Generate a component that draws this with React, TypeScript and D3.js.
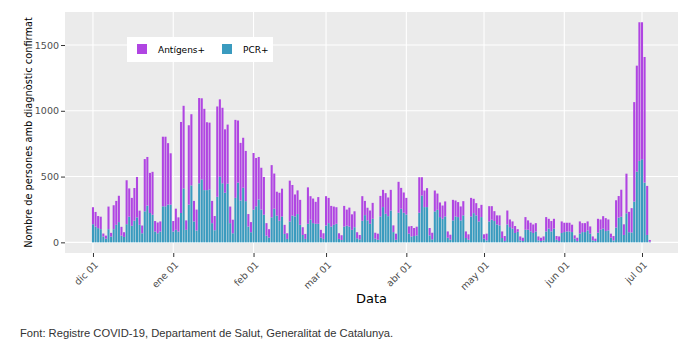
import { useRef, useEffect } from "react";
import * as d3 from "d3";

// one bar per day, starting on this date
const startDay = "2020-12-01";

// PCR+ cases per day (bottom of the stack)
const pcr = [
  138, 120, 108, 100, 44, 28, 100, 44, 100, 133, 154, 51, 41, 138, 195, 126, 164, 190, 133, 69,
  236, 279, 223, 210, 82, 69, 82, 274, 274, 287, 287, 82, 95, 82, 223, 410, 95, 287, 433, 159,
  90, 449, 479, 397, 397, 402, 146, 92, 346, 500, 449, 377, 446, 146, 69, 338, 454, 318, 415, 313,
  120, 77, 249, 274, 326, 249, 210, 51, 36, 190, 256, 203, 164, 197, 64, 26, 159, 203, 197, 215,
  133, 56, 26, 141, 172, 146, 141, 141, 36, 26, 128, 146, 120, 133, 141, 26, 18, 120, 126, 120,
  95, 115, 31, 23, 164, 207, 167, 141, 179, 28, 20, 197, 268, 217, 199, 242, 78, 20, 225, 255,
  225, 212, 66, 45, 48, 53, 225, 356, 268, 268, 53, 23, 235, 247, 192, 179, 197, 35, 20, 167,
  197, 192, 167, 205, 33, 20, 197, 222, 205, 159, 192, 28, 15, 159, 172, 162, 136, 129, 33, 10,
  136, 116, 104, 71, 80, 15, 10, 96, 96, 83, 71, 83, 15, 10, 15, 83, 104, 83, 104, 20,
  10, 71, 78, 83, 83, 78, 28, 10, 66, 78, 78, 91, 66, 15, 10, 73, 96, 104, 86, 91,
  35, 15, 112, 188, 195, 56, 221, 77, 75, 310, 538, 619, 632, 454, 56, 5,
];

// Antígens+ cases per day (stacked on top)
const antigens = [
  129, 111, 92, 95, 23, 23, 172, 28, 182, 182, 200, 67, 36, 334, 215, 212, 249, 307, 108, 59,
  397, 370, 305, 326, 80, 82, 77, 529, 529, 467, 390, 80, 161, 108, 692, 628, 72, 603, 541, 156,
  159, 648, 616, 618, 516, 508, 169, 108, 687, 587, 574, 482, 449, 126, 103, 593, 472, 438, 380, 382,
  95, 77, 430, 367, 323, 318, 287, 95, 64, 397, 267, 182, 213, 211, 69, 43, 310, 233, 167, 180,
  190, 59, 38, 277, 179, 187, 167, 203, 59, 43, 223, 192, 157, 139, 126, 43, 36, 157, 123, 144,
  118, 121, 46, 33, 187, 108, 96, 101, 121, 45, 46, 156, 131, 157, 142, 157, 51, 46, 235, 159,
  154, 126, 55, 79, 61, 66, 270, 139, 126, 144, 56, 50, 159, 124, 111, 101, 114, 48, 38, 156,
  121, 114, 106, 108, 50, 41, 141, 109, 93, 101, 93, 33, 51, 116, 103, 75, 69, 76, 50, 38,
  106, 58, 55, 53, 20, 30, 25, 96, 71, 66, 65, 63, 30, 25, 30, 109, 75, 79, 75, 28,
  35, 88, 71, 66, 66, 56, 25, 25, 93, 68, 68, 68, 55, 30, 18, 106, 78, 95, 98, 83,
  31, 33, 208, 164, 205, 81, 301, 155, 185, 756, 805, 1054, 1041, 955, 373, 13,
];

const tickDates = [
  "2020-12-01", "2021-01-01", "2021-02-01", "2021-03-01",
  "2021-04-01", "2021-05-01", "2021-06-01", "2021-07-01",
];
const tickLabels = ["dic 01", "ene 01", "feb 01", "mar 01", "abr 01", "may 01", "jun 01", "jul 01"];
const yTicks = [0, 500, 1000, 1500];
const seriesNames = ["Antígens+", "PCR+"];
const seriesColors = ["#b045e2", "#3a9bbf"];

export default function App() {
  const svgRef = useRef<SVGSVGElement>(null);

  useEffect(() => {
    const width = 699;
    const height = 361;
    const panel = { left: 65, right: 678, top: 12, bottom: 253 };
    const font = "'DejaVu Sans', Verdana, sans-serif";

    const svg = d3.select(svgRef.current).attr("width", width).attr("height", height);
    svg.selectAll("*").remove();

    const days = pcr.map((_, i) => d3.utcDay.offset(new Date(startDay), i));

    const x = d3
      .scaleUtc()
      .domain([new Date("2020-11-20T04:48:00Z"), new Date("2021-07-14T21:36:00Z")])
      .range([panel.left, panel.right]);
    const y = d3.scaleLinear().domain([-81, 1751]).range([panel.bottom, panel.top]);

    // panel background + grid
    svg.append("rect")
      .attr("x", panel.left)
      .attr("y", panel.top)
      .attr("width", panel.right - panel.left)
      .attr("height", panel.bottom - panel.top)
      .attr("fill", "#ebebeb");

    const ticks = tickDates.map((d) => new Date(d));

    svg.append("g")
      .selectAll("line")
      .data(yTicks)
      .join("line")
      .attr("x1", panel.left)
      .attr("x2", panel.right)
      .attr("y1", (d) => y(d))
      .attr("y2", (d) => y(d))
      .attr("stroke", "#fff")
      .attr("stroke-width", 1.1);

    svg.append("g")
      .selectAll("line")
      .data(ticks)
      .join("line")
      .attr("x1", (d) => x(d))
      .attr("x2", (d) => x(d))
      .attr("y1", panel.top)
      .attr("y2", panel.bottom)
      .attr("stroke", "#fff")
      .attr("stroke-width", 1.1);

    // stacked bars
    const step = x(days[1]) - x(days[0]);
    const bw = step * 0.8;
    const bars = svg.append("g");

    bars.selectAll("rect.pcr")
      .data(days)
      .join("rect")
      .attr("class", "pcr")
      .attr("x", (d) => x(d) - bw / 2)
      .attr("width", bw)
      .attr("y", (_, i) => y(pcr[i]))
      .attr("height", (_, i) => y(0) - y(pcr[i]))
      .attr("fill", seriesColors[1]);

    bars.selectAll("rect.ant")
      .data(days)
      .join("rect")
      .attr("class", "ant")
      .attr("x", (d) => x(d) - bw / 2)
      .attr("width", bw)
      .attr("y", (_, i) => y(pcr[i] + antigens[i]))
      .attr("height", (_, i) => y(pcr[i]) - y(pcr[i] + antigens[i]))
      .attr("fill", seriesColors[0]);

    // y axis
    const yAxis = svg.append("g")
      .attr("transform", `translate(${panel.left},0)`)
      .call(
        d3.axisLeft(y)
          .tickValues(yTicks)
          .tickFormat(d3.format("d"))
          .tickSize(4)
          .tickPadding(2)
      );
    yAxis.select(".domain").remove();
    yAxis.selectAll("line").attr("stroke", "#333");
    yAxis.selectAll("text")
      .attr("fill", "#4d4d4d")
      .attr("font-size", 9.5)
      .attr("font-family", font);

    // x axis
    const xAxis = svg.append("g")
      .attr("transform", `translate(0,${panel.bottom})`)
      .call(
        d3.axisBottom(x)
          .tickValues(ticks)
          .tickFormat((_, i) => tickLabels[i])
          .tickSize(4)
      );
    xAxis.select(".domain").remove();
    xAxis.selectAll("line").attr("stroke", "#333");
    xAxis.selectAll("text")
      .attr("fill", "#4d4d4d")
      .attr("font-size", 9.5)
      .attr("font-family", font)
      .attr("x", 0)
      .attr("y", 0)
      .attr("dy", "0.35em")
      .attr("text-anchor", "end")
      .attr("transform", "translate(3,10) rotate(-45)");

    // axis titles
    svg.append("text")
      .attr("x", (panel.left + panel.right) / 2)
      .attr("y", 303)
      .attr("text-anchor", "middle")
      .attr("font-family", font)
      .attr("font-size", 13)
      .attr("fill", "#000")
      .text("Data");

    svg.append("text")
      .attr("transform", `translate(32,${(panel.top + panel.bottom) / 2}) rotate(-90)`)
      .attr("text-anchor", "middle")
      .attr("font-family", font)
      .attr("font-size", 9.8)
      .attr("fill", "#000")
      .text("Nombre de persones amb diagnòstic confirmat");

    // legend
    const legend = svg.append("g").attr("transform", "translate(127,37)");
    legend.append("rect").attr("width", 146).attr("height", 25).attr("fill", "#fff");
    const offsets = [10, 95];
    seriesNames.forEach((name, i) => {
      legend.append("rect")
        .attr("x", offsets[i])
        .attr("y", 7)
        .attr("width", 10)
        .attr("height", 10)
        .attr("fill", seriesColors[i]);
      legend.append("text")
        .attr("x", offsets[i] + 21)
        .attr("y", 16)
        .attr("font-family", font)
        .attr("font-size", 9)
        .attr("fill", "#000")
        .text(name);
    });

    // caption
    svg.append("text")
      .attr("x", 20)
      .attr("y", 337)
      .attr("font-family", "'Liberation Sans', Arial, sans-serif")
      .attr("font-size", 11.2)
      .attr("fill", "#333")
      .text("Font: Registre COVID-19, Departament de Salut, Generalitat de Catalunya.");
  }, []);

  return <svg ref={svgRef} style={{ position: "absolute", left: 0, top: 0, background: "#fff" }} />;
}
